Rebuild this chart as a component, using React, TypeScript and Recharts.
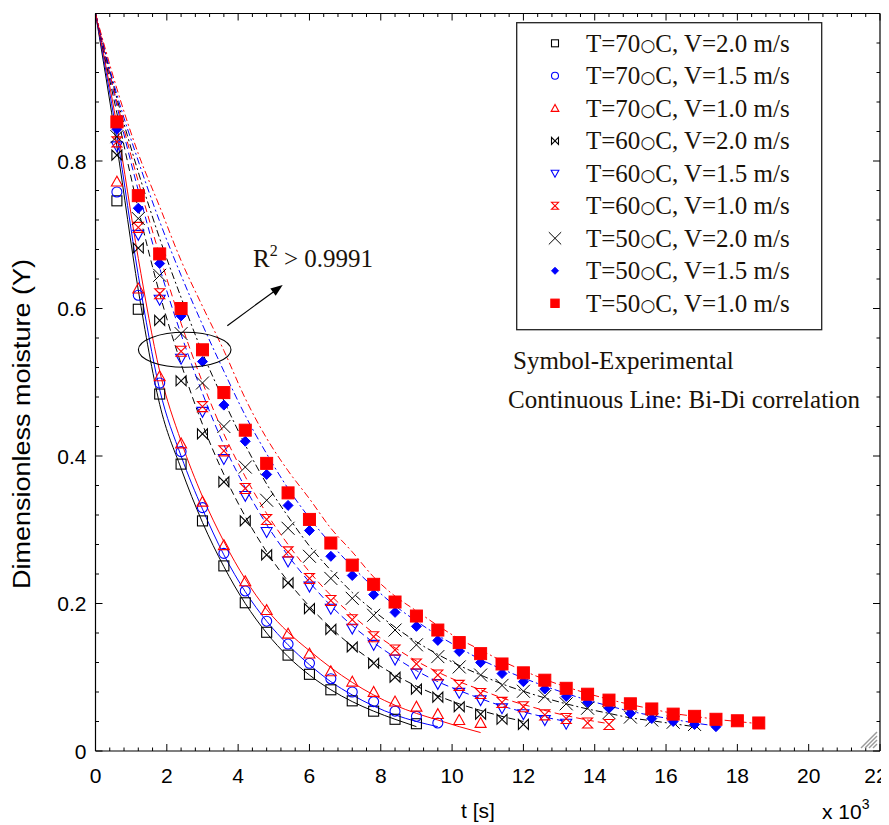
import React from "react";
import { ComposedChart, Line, Scatter, XAxis, YAxis } from "recharts";

// time grids (x 10^3 s)
const T_EXP = [0.6, 1.2, 1.8, 2.4, 3.0, 3.6, 4.2, 4.8, 5.4, 6.0, 6.6, 7.2, 7.8, 8.4, 9.0, 9.6, 10.2, 10.8, 11.4, 12.0, 12.6, 13.2, 13.8, 14.4, 15.0, 15.6, 16.2, 16.8, 17.4, 18.0, 18.6];
const T_FIT = [0, 0.6, 1.2, 1.8, 2.4, 3.0, 3.6, 4.2, 4.8, 5.4, 6.0, 6.6, 7.2, 7.8, 8.4, 9.0, 9.6, 10.2, 10.8, 11.4, 12.0, 12.6, 13.2, 13.8, 14.4, 15.0, 15.6, 16.2, 16.8, 17.4, 18.0, 18.6];

// experimental points (symbols)
const exp70v20 = [0.746, 0.599, 0.484, 0.389, 0.312, 0.251, 0.201, 0.161, 0.130, 0.104, 0.083, 0.068, 0.054, 0.043, 0.037];
const exp70v15 = [0.758, 0.618, 0.499, 0.406, 0.330, 0.268, 0.217, 0.176, 0.145, 0.119, 0.098, 0.080, 0.067, 0.054, 0.047, 0.038];
const exp70v10 = [0.772, 0.627, 0.508, 0.417, 0.338, 0.279, 0.230, 0.191, 0.159, 0.132, 0.108, 0.094, 0.080, 0.067, 0.060, 0.050, 0.042, 0.038];
const exp60v20 = [0.808, 0.682, 0.584, 0.502, 0.430, 0.365, 0.312, 0.266, 0.228, 0.193, 0.165, 0.141, 0.119, 0.100, 0.084, 0.073, 0.060, 0.050, 0.043, 0.036];
const exp60v15 = [0.820, 0.700, 0.612, 0.532, 0.460, 0.396, 0.346, 0.297, 0.257, 0.223, 0.193, 0.166, 0.144, 0.124, 0.105, 0.091, 0.079, 0.069, 0.058, 0.050, 0.042, 0.037];
const exp60v10 = [0.826, 0.710, 0.620, 0.542, 0.467, 0.407, 0.356, 0.314, 0.270, 0.234, 0.204, 0.178, 0.155, 0.137, 0.118, 0.103, 0.089, 0.078, 0.066, 0.060, 0.049, 0.044, 0.038, 0.036];
const exp50v20 = [0.833, 0.722, 0.645, 0.566, 0.499, 0.440, 0.385, 0.340, 0.302, 0.264, 0.234, 0.207, 0.184, 0.164, 0.144, 0.128, 0.114, 0.103, 0.089, 0.081, 0.074, 0.064, 0.058, 0.052, 0.046, 0.042, 0.039, 0.036];
const exp50v15 = [0.843, 0.736, 0.661, 0.590, 0.528, 0.469, 0.420, 0.375, 0.333, 0.299, 0.264, 0.238, 0.212, 0.188, 0.169, 0.150, 0.135, 0.120, 0.105, 0.094, 0.084, 0.074, 0.066, 0.058, 0.051, 0.044, 0.040, 0.036, 0.033];
const exp50v10 = [0.853, 0.753, 0.674, 0.600, 0.544, 0.486, 0.435, 0.390, 0.350, 0.314, 0.282, 0.252, 0.226, 0.202, 0.183, 0.164, 0.147, 0.132, 0.118, 0.106, 0.096, 0.085, 0.077, 0.069, 0.064, 0.057, 0.050, 0.047, 0.043, 0.041, 0.038];

// Bi-Di correlation curves
const fit70v20 = [1.0, 0.82, 0.625, 0.47, 0.383, 0.31, 0.25, 0.2, 0.16, 0.128, 0.103, 0.083, 0.067, 0.054, 0.043, 0.033];
const fit70v15 = [1.0, 0.835, 0.645, 0.49, 0.4, 0.328, 0.266, 0.216, 0.176, 0.144, 0.117, 0.094, 0.076, 0.061, 0.049, 0.04, 0.033];
const fit70v10 = [1.0, 0.848, 0.668, 0.515, 0.42, 0.345, 0.284, 0.233, 0.192, 0.161, 0.136, 0.113, 0.093, 0.076, 0.062, 0.051, 0.042, 0.033, 0.025];
const fit60v20 = [1.0, 0.865, 0.735, 0.62, 0.525, 0.443, 0.375, 0.318, 0.27, 0.23, 0.196, 0.167, 0.142, 0.121, 0.103, 0.088, 0.075, 0.064, 0.055, 0.047, 0.04];
const fit60v15 = [1.0, 0.875, 0.76, 0.655, 0.565, 0.485, 0.415, 0.357, 0.307, 0.265, 0.229, 0.197, 0.17, 0.147, 0.127, 0.109, 0.094, 0.082, 0.071, 0.061, 0.053, 0.046, 0.04];
const fit60v10 = [1.0, 0.88, 0.772, 0.672, 0.58, 0.5, 0.43, 0.372, 0.322, 0.28, 0.243, 0.211, 0.184, 0.16, 0.14, 0.122, 0.107, 0.094, 0.083, 0.072, 0.063, 0.055, 0.048, 0.042, 0.037];
const fit50v20 = [1.0, 0.885, 0.785, 0.695, 0.615, 0.54, 0.475, 0.415, 0.362, 0.318, 0.278, 0.245, 0.215, 0.19, 0.168, 0.148, 0.131, 0.116, 0.103, 0.091, 0.081, 0.072, 0.064, 0.057, 0.051, 0.045, 0.041, 0.037, 0.033];
const fit50v15 = [1.0, 0.89, 0.8, 0.718, 0.645, 0.578, 0.515, 0.455, 0.403, 0.356, 0.316, 0.281, 0.25, 0.222, 0.197, 0.176, 0.157, 0.14, 0.124, 0.111, 0.099, 0.088, 0.078, 0.069, 0.061, 0.054, 0.048, 0.043, 0.038, 0.034];
const fit50v10 = [1.0, 0.898, 0.81, 0.738, 0.665, 0.603, 0.543, 0.478, 0.424, 0.38, 0.342, 0.302, 0.27, 0.236, 0.21, 0.19, 0.17, 0.152, 0.137, 0.122, 0.109, 0.097, 0.087, 0.078, 0.07, 0.063, 0.057, 0.051, 0.047, 0.043, 0.04, 0.037];

const LABELS = [
  "T=70\u25CBC, V=2.0 m/s",
  "T=70\u25CBC, V=1.5 m/s",
  "T=70\u25CBC, V=1.0 m/s",
  "T=60\u25CBC, V=2.0 m/s",
  "T=60\u25CBC, V=1.5 m/s",
  "T=60\u25CBC, V=1.0 m/s",
  "T=50\u25CBC, V=2.0 m/s",
  "T=50\u25CBC, V=1.5 m/s",
  "T=50\u25CBC, V=1.0 m/s",
];

const X_MAJOR = [0, 2, 4, 6, 8, 10, 12, 14, 16, 18, 20, 22];
const X_LABELS = ["0", "2", "4", "6", "8", "10", "12", "14", "16", "18", "20", "22"];
const Y_MAJOR = [0, 0.2, 0.4, 0.6, 0.8, 1.0];
const Y_LABELS = ["0", "0.2", "0.4", "0.6", "0.8", ""];

const X_TICKS = Array.from({ length: 56 }, (_, i) => +(i * 0.4).toFixed(1));
const Y_TICKS = Array.from({ length: 26 }, (_, i) => +(i * 0.04).toFixed(2));

const BLACK = "#000000";
const BLUE = "#0000ff";
const RED = "#ff0000";
const SANS = '"Liberation Sans", Arial, sans-serif';
const SERIF = '"Liberation Serif", "Times New Roman", serif';
const TXT = "#1a1208";

type Kind = "sq" | "circ" | "tri" | "bow" | "dtri" | "hg" | "x" | "dia" | "fsq";

const SERIES: { kind: Kind; color: string; exp: number[]; fit: number[]; dash?: string }[] = [
  { kind: "sq", color: BLACK, exp: exp70v20, fit: fit70v20 },
  { kind: "circ", color: BLUE, exp: exp70v15, fit: fit70v15 },
  { kind: "tri", color: RED, exp: exp70v10, fit: fit70v10 },
  { kind: "bow", color: BLACK, exp: exp60v20, fit: fit60v20, dash: "7 4" },
  { kind: "dtri", color: BLUE, exp: exp60v15, fit: fit60v15, dash: "7 4" },
  { kind: "hg", color: RED, exp: exp60v10, fit: fit60v10, dash: "7 4" },
  { kind: "x", color: BLACK, exp: exp50v20, fit: fit50v20, dash: "7 3 2 3" },
  { kind: "dia", color: BLUE, exp: exp50v15, fit: fit50v15, dash: "7 3 2 3" },
  { kind: "fsq", color: RED, exp: exp50v10, fit: fit50v10, dash: "7 3 2 3" },
];

function Marker({ kind, cx, cy, k = 1 }: { kind: Kind; cx: number; cy: number; k?: number }) {
  if (cx == null || cy == null || isNaN(cx) || isNaN(cy)) return <g />;
  const sw = 1.1;
  switch (kind) {
    case "sq": {
      const h = 5 * k;
      return <rect x={cx - h} y={cy - h} width={2 * h} height={2 * h} fill="none" stroke={BLACK} strokeWidth={sw} />;
    }
    case "circ":
      return <circle cx={cx} cy={cy} r={5 * k} fill="none" stroke={BLUE} strokeWidth={sw} />;
    case "tri": {
      const h = 5.5 * k;
      return <polygon points={`${cx},${cy - h} ${cx - h},${cy + h * 0.8} ${cx + h},${cy + h * 0.8}`} fill="none" stroke={RED} strokeWidth={sw} />;
    }
    case "dtri": {
      const h = 5.5 * k;
      return <polygon points={`${cx},${cy + h} ${cx - h},${cy - h * 0.8} ${cx + h},${cy - h * 0.8}`} fill="none" stroke={BLUE} strokeWidth={sw} />;
    }
    case "bow": {
      const h = 5 * k;
      return <path d={`M${cx - h},${cy - h}L${cx - h},${cy + h}L${cx + h},${cy - h}L${cx + h},${cy + h}Z`} fill="none" stroke={BLACK} strokeWidth={sw} />;
    }
    case "hg": {
      const h = 5 * k;
      return <path d={`M${cx - h},${cy - h}L${cx + h},${cy - h}L${cx - h},${cy + h}L${cx + h},${cy + h}Z`} fill="none" stroke={RED} strokeWidth={sw} />;
    }
    case "x": {
      const h = 6.5 * k;
      return (
        <g stroke={BLACK} strokeWidth={1}>
          <line x1={cx - h} y1={cy - h} x2={cx + h} y2={cy + h} />
          <line x1={cx - h} y1={cy + h} x2={cx + h} y2={cy - h} />
        </g>
      );
    }
    case "dia": {
      const h = 5 * k;
      return <polygon points={`${cx},${cy - h} ${cx + h},${cy} ${cx},${cy + h} ${cx - h},${cy}`} fill={BLUE} stroke={BLUE} />;
    }
    case "fsq": {
      const h = 6 * k;
      return <rect x={cx - h} y={cy - h} width={2 * h} height={2 * h} fill={RED} stroke={RED} />;
    }
  }
  return <g />;
}

const near = (a: number, b: number) => Math.abs(a - b) < 1e-6;
const xLabel = (v: number) => {
  const i = X_MAJOR.findIndex((m) => near(m, v));
  return i >= 0 ? X_LABELS[i] : null;
};
const yLabel = (v: number) => {
  const i = Y_MAJOR.findIndex((m) => near(m, v));
  return i >= 0 ? Y_LABELS[i] : null;
};

const BottomTick = (p: any) => {
  const v = p.payload.value;
  const lab = xLabel(v);
  const last = near(v, 22);
  return (
    <g>
      <line x1={p.x} x2={p.x} y1={p.y} y2={p.y - (lab != null ? 7 : 3.5)} stroke={BLACK} />
      {lab != null && (
        <text x={p.x - (last ? 4 : 0)} y={p.y + 32} textAnchor="middle" fontFamily={SANS} fontSize={21} fill={BLACK}>
          {lab}
        </text>
      )}
    </g>
  );
};
const TopTick = (p: any) => {
  const v = p.payload.value;
  const maj = xLabel(v) != null;
  return <line x1={p.x} x2={p.x} y1={p.y} y2={p.y + (maj ? 7 : 3.5)} stroke={BLACK} />;
};
const LeftTick = (p: any) => {
  const v = p.payload.value;
  const lab = yLabel(v);
  return (
    <g>
      <line x1={p.x} x2={p.x + (lab != null ? 7 : 3.5)} y1={p.y} y2={p.y} stroke={BLACK} />
      {lab ? (
        <text x={p.x - 9} y={p.y + 7.5} textAnchor="end" fontFamily={SANS} fontSize={21} fill={BLACK}>
          {lab}
        </text>
      ) : null}
    </g>
  );
};
const RightTick = (p: any) => {
  const v = p.payload.value;
  const maj = yLabel(v) != null;
  return <line x1={p.x} x2={p.x - (maj ? 7 : 3.5)} y1={p.y} y2={p.y} stroke={BLACK} />;
};

const W = 881;
const H = 817;

function LegendLabel({ x, y, text }: { x: number; y: number; text: string }) {
  const parts = text.split("\u25CB");
  return (
    <text x={x} y={y} fontFamily={SERIF} fontSize={25} fill={TXT}>
      {parts[0]}
      <tspan fontFamily='"DejaVu Sans", sans-serif' fontSize={17} dy={-1}>{"\u25CB"}</tspan>
      <tspan dy={1}>{parts[1]}</tspan>
    </text>
  );
}

export default function App() {
  const ax = { xAxisId: "b", yAxisId: "l" };
  return (
    <div style={{ position: "relative", width: W, height: H }}>
      <ComposedChart
        width={W}
        height={H}
        margin={{ top: 4.5, right: 8, bottom: 44, left: 27.5 }}
        style={{ overflow: "visible" }}
      >
        <XAxis
          xAxisId="b"
          type="number"
          dataKey="x"
          domain={[0, 22]}
          ticks={X_TICKS}
          interval={0}
          tickSize={0}
          tickMargin={0}
          tickLine={false}
          axisLine={{ stroke: BLACK, strokeWidth: 1.2 }}
          tick={(p: any) => <BottomTick {...p} />}
          height={30}
          allowDataOverflow
        />
        <XAxis
          xAxisId="t"
          orientation="top"
          type="number"
          dataKey="x"
          domain={[0, 22]}
          ticks={X_TICKS}
          interval={0}
          tickSize={0}
          tickMargin={0}
          tickLine={false}
          axisLine={{ stroke: BLACK, strokeWidth: 1.2 }}
          tick={(p: any) => <TopTick {...p} />}
          height={1}
          allowDataOverflow
        />
        <YAxis
          yAxisId="l"
          type="number"
          dataKey="y"
          domain={[0, 1]}
          ticks={Y_TICKS}
          interval={0}
          tickSize={0}
          tickMargin={0}
          tickLine={false}
          axisLine={{ stroke: BLACK, strokeWidth: 1.2 }}
          tick={(p: any) => <LeftTick {...p} />}
          width={60}
          allowDataOverflow
        />
        <YAxis
          yAxisId="r"
          orientation="right"
          type="number"
          dataKey="y"
          domain={[0, 1]}
          ticks={Y_TICKS}
          interval={0}
          tickSize={0}
          tickMargin={0}
          tickLine={false}
          axisLine={{ stroke: BLACK, strokeWidth: 1.2 }}
          tick={(p: any) => <RightTick {...p} />}
          width={1}
          allowDataOverflow
        />
        {SERIES.map((s, i) => (
          <Line
            key={"fit" + i}
            {...ax}
            data={s.fit.map((y, j) => ({ x: T_FIT[j], y }))}
            dataKey="y"
            type="monotone"
            stroke={s.color}
            strokeWidth={1}
            strokeDasharray={s.dash}
            dot={false}
            activeDot={false}
            isAnimationActive={false}
          />
        ))}
        {SERIES.map((s, i) => (
          <Scatter
            key={"exp" + i}
            {...ax}
            data={s.exp.map((y, j) => ({ x: T_EXP[j], y }))}
            dataKey="y"
            isAnimationActive={false}
            shape={(p: any) => <Marker kind={s.kind} cx={p.cx} cy={p.cy} />}
          />
        ))}
      </ComposedChart>
      <svg
        width={W}
        height={H}
        style={{ position: "absolute", left: 0, top: 0, pointerEvents: "none", overflow: "visible" }}
      >
        {/* legend */}
        <rect x={508.7} y={14.7} width={305} height={307} fill="#ffffff" stroke="#222" strokeWidth={1.3} />
        {SERIES.map((s, i) => {
          const cy = 35.3 + i * 32.5;
          return (
            <g key={"lg" + i}>
              <Marker kind={s.kind} cx={547} cy={cy} k={s.kind === "x" ? 0.95 : 0.7} />
              <LegendLabel x={578} y={cy + 8.5} text={LABELS[i]} />
            </g>
          );
        })}
        {/* annotations */}
        <text x={505} y={361} fontFamily={SERIF} fontSize={25} fill={TXT}>Symbol-Experimental</text>
        <text x={500} y={400} fontFamily={SERIF} fontSize={25} fill={TXT}>Continuous Line: Bi-Di correlation</text>
        <text x={245} y={259} fontFamily={SERIF} fontSize={25} fill={TXT}>
          R<tspan fontSize={16} dy={-11}>2</tspan>
          <tspan dy={11}>{" > 0.9991"}</tspan>
        </text>
        <ellipse cx={176.7} cy={341.8} rx={46.3} ry={17.5} fill="none" stroke={BLACK} strokeWidth={1.1} />
        <line x1={219.3} y1={317.7} x2={266} y2={283.4} stroke={BLACK} strokeWidth={1.2} />
        <polygon points="274.7,277 267.7,287.7 262.3,280.5" fill={BLACK} />
        {/* axis titles */}
        <text
          x={14}
          y={416}
          transform="rotate(-90 14 416)"
          textAnchor="middle"
          dominantBaseline="central"
          fontFamily={SANS}
          fontSize={23}
          textLength={330}
          lengthAdjust="spacingAndGlyphs"
          fill={BLACK}
        >
          Dimensionless moisture (Y)
        </text>
        <text x={470} y={810} textAnchor="middle" fontFamily={SANS} fontSize={21} fill={BLACK}>
          t [s]
        </text>
        <text x={814} y={811} fontFamily={SANS} fontSize={21} fill={BLACK}>
          x 10<tspan fontSize={14} dy={-10}>3</tspan>
        </text>
        {/* window resize grip */}
        <g stroke="#9a9a9a" strokeWidth={1.4}>
          <line x1={853} y1={740} x2={869} y2={724} />
          <line x1={857} y1={740} x2={869} y2={728} />
          <line x1={861} y1={740} x2={869} y2={732} />
          <line x1={865} y1={740} x2={869} y2={736} />
        </g>
      </svg>
    </div>
  );
}
